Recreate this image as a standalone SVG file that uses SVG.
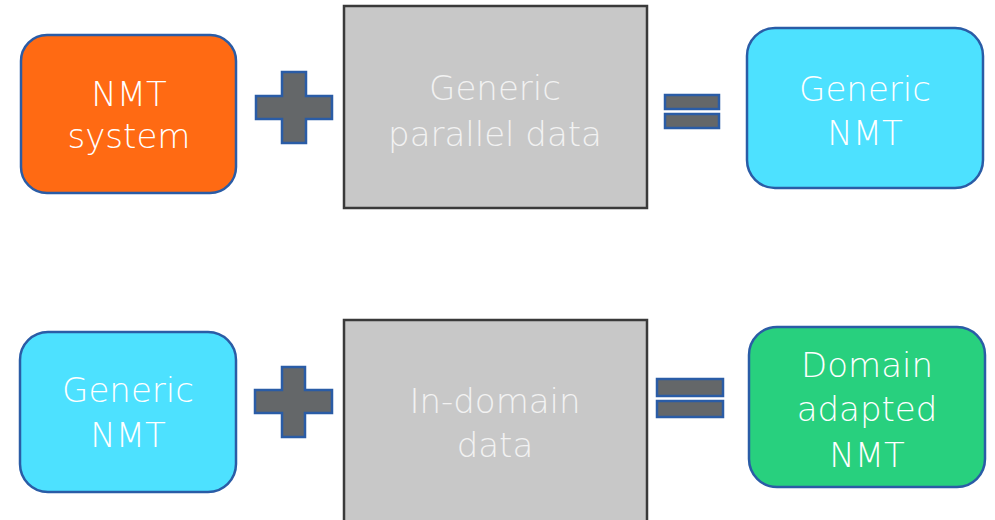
<svg xmlns="http://www.w3.org/2000/svg" width="995" height="520" viewBox="0 0 995 520">
<style>
.box{stroke:#2A5CA6;stroke-width:2.5}
.data{fill:#C8C8C8;stroke:#3A3A3A;stroke-width:2.5}
.op{fill:#646769;stroke:#2A5CA6;stroke-width:2.5}
text{font-family:"DejaVu Sans","Liberation Sans",sans-serif;font-size:34px;font-weight:300;text-anchor:middle;fill:#FFFFFF}
.dt{fill:#F2F2F2}
</style>
<rect width="995" height="520" fill="#FFFFFF"/>
<g id="nmt-system">
<rect class="box" x="21" y="35" width="215" height="158" rx="26" fill="#FF6A13"/>
<text x="129" y="106">NMT</text>
<text x="129" y="148">system</text>
</g>
<g id="plus-top"><path class="op" d="M282,72H306V96H332V119H306V143H282V119H256V96H282Z"/></g>
<g id="generic-parallel-data">
<rect class="data" x="344" y="6" width="303" height="202"/>
<text class="dt" x="495" y="100">Generic</text>
<text class="dt" x="495" y="146">parallel data</text>
</g>
<g id="equals-top">
<rect class="op" x="665" y="95" width="54" height="14"/>
<rect class="op" x="665" y="114" width="54" height="14"/>
</g>
<g id="generic-nmt-top">
<rect class="box" x="747" y="28" width="236" height="160" rx="28" fill="#4DE1FF"/>
<text x="865" y="101">Generic</text>
<text x="865" y="145">NMT</text>
</g>
<g id="generic-nmt-bottom">
<rect class="box" x="20" y="332" width="216" height="160" rx="28" fill="#4DE1FF"/>
<text x="128" y="402">Generic</text>
<text x="128" y="447">NMT</text>
</g>
<g id="plus-bottom"><path class="op" d="M282,367H305V390H332V413H305V437H282V413H255V390H282Z"/></g>
<g id="in-domain-data">
<rect class="data" x="344" y="320" width="303" height="210"/>
<text class="dt" x="495" y="413">In-domain</text>
<text class="dt" x="495" y="457">data</text>
</g>
<g id="equals-bottom">
<rect class="op" x="657" y="379" width="66" height="17"/>
<rect class="op" x="657" y="401" width="66" height="16"/>
</g>
<g id="domain-adapted-nmt">
<rect class="box" x="749" y="327" width="236" height="160" rx="28" fill="#28D07E"/>
<text x="867" y="377">Domain</text>
<text x="867" y="421">adapted</text>
<text x="867" y="467">NMT</text>
</g>
<g id="connectors"></g>
</svg>
